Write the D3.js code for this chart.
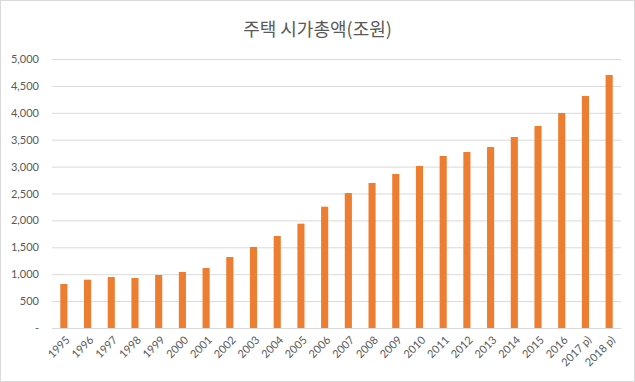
<!DOCTYPE html>
<html><head><meta charset="utf-8">
<script src="https://cdn.jsdelivr.net/npm/d3@7"></script>
<style>body{margin:0;background:#fff}svg{display:block}</style>
</head><body>
<svg id="c" width="635" height="382"></svg>
<script>
const categories = ["1995","1996","1997","1998","1999","2000","2001","2002","2003","2004","2005","2006","2007","2008","2009","2010","2011","2012","2013","2014","2015","2016","2017 p)","2018 p)"];
const values = [818,898,948,929,985,1041,1115,1320,1506,1710,1939,2255,2509,2695,2862,3011,3197,3271,3364,3550,3755,3996,4312,4703];
const yTicks = [0,500,1000,1500,2000,2500,3000,3500,4000,4500,5000];
const title = "주택 시가총액(조원)";

const svg = d3.select("#c");
const W = 635, H = 382;
const m = {left:52, right:14, top:59, bottom:54};
svg.append("rect").attr("x",0.5).attr("y",0.5).attr("width",W-1).attr("height",H-1)
  .attr("fill","#fff").attr("stroke","#d9d9d9");

const x = d3.scaleBand().domain(categories).range([m.left, W-m.right]).paddingInner(0.7).paddingOuter(0.35);
const y = d3.scaleLinear().domain([0,5000]).range([H-m.bottom, m.top]);

const fmt = d => d===0 ? "-" : d3.format(",")(d);
const ya = svg.append("g").attr("transform",`translate(${m.left},0)`)
  .call(d3.axisLeft(y).tickValues(yTicks).tickFormat(fmt).tickSize(-(W-m.right-m.left)).tickPadding(13));
ya.select(".domain").remove();
ya.selectAll(".tick line").attr("stroke","#d9d9d9").attr("stroke-width",1);
ya.selectAll(".tick text").attr("fill","#595959").attr("font-family","Lato, 'Liberation Sans', sans-serif").attr("font-size",11);

svg.append("g").selectAll("rect").data(values).join("rect")
  .attr("x",(d,i)=>x(categories[i])).attr("width",x.bandwidth())
  .attr("y",d=>y(d)).attr("height",d=>y(0)-y(d)).attr("fill","#ed7d31");

const xa = svg.append("g").attr("transform",`translate(0,${H-m.bottom})`)
  .call(d3.axisBottom(x).tickSize(0).tickPadding(0));
xa.select(".domain").attr("stroke","#d9d9d9");
xa.selectAll(".tick text").attr("fill","#595959").attr("font-family","Lato, 'Liberation Sans', sans-serif").attr("font-size",11)
  .attr("text-anchor","end").attr("dy","0.35em").attr("transform","translate(4,10) rotate(-45)");

svg.append("text").attr("x",W/2).attr("y",36).attr("text-anchor","middle")
  .attr("fill","#595959").attr("font-family","'Noto Sans CJK KR', sans-serif").attr("font-size",18).text(title);
</script>
</body></html>
